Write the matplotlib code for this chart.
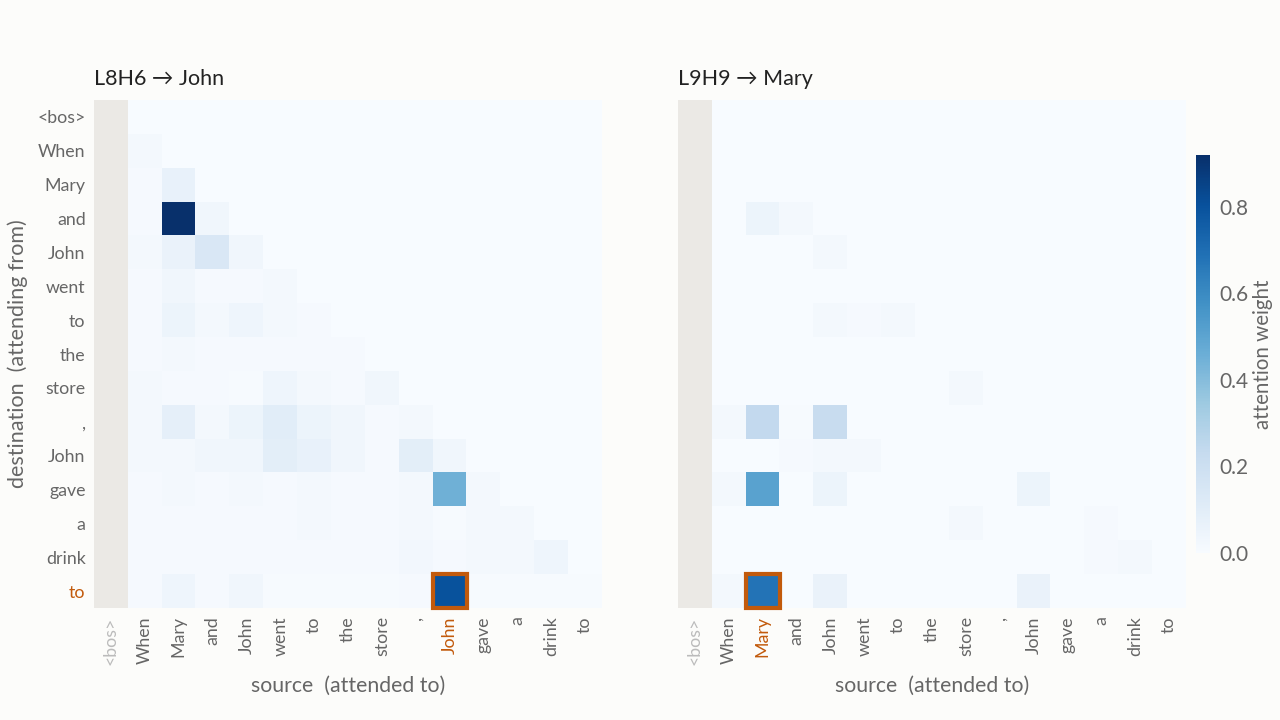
import numpy as np
import matplotlib
matplotlib.use("Agg")
import matplotlib.pyplot as plt
from matplotlib.patches import Rectangle

plt.rcParams['font.family'] = ['Lato', 'DejaVu Sans']

tokens = ["<bos>", "When", "Mary", "and", "John", "went", "to", "the",
          "store", ",", "John", "gave", "a", "drink", "to"]

# destination rows x source columns (column 0 = <bos>, shown masked)
attn_L8H6 = [
    [0.00, 0,    0,    0,    0,    0,    0,    0,    0,    0,    0,    0,    0,    0,    0],
    [0.00, 0.02, 0,    0,    0,    0,    0,    0,    0,    0,    0,    0,    0,    0,    0],
    [0.00, 0.01, 0.065,0,    0,    0,    0,    0,    0,    0,    0,    0,    0,    0,    0],
    [0.00, 0.01, 0.92, 0.03, 0,    0,    0,    0,    0,    0,    0,    0,    0,    0,    0],
    [0.00, 0.02, 0.06, 0.14, 0.03, 0,    0,    0,    0,    0,    0,    0,    0,    0,    0],
    [0.00, 0.01, 0.03, 0.01, 0.01, 0.02, 0,    0,    0,    0,    0,    0,    0,    0,    0],
    [0.00, 0.01, 0.05, 0.02, 0.04, 0.02, 0.01, 0,    0,    0,    0,    0,    0,    0,    0],
    [0.00, 0.01, 0.02, 0.01, 0.01, 0.01, 0.01, 0.01, 0,    0,    0,    0,    0,    0,    0],
    [0.00, 0.02, 0.01, 0.01, 0.005,0.04, 0.02, 0.01, 0.03, 0,    0,    0,    0,    0,    0],
    [0.00, 0.02, 0.08, 0.02, 0.05, 0.10, 0.05, 0.03, 0.01, 0.02, 0,    0,    0,    0,    0],
    [0.00, 0.02, 0.02, 0.03, 0.03, 0.09, 0.07, 0.03, 0.01, 0.09, 0.03, 0,    0,    0,    0],
    [0.00, 0.01, 0.02, 0.01, 0.02, 0.01, 0.015,0.01, 0.01, 0.02, 0.45, 0.02, 0,    0,    0],
    [0.00, 0.01, 0.01, 0.01, 0.01, 0.01, 0.015,0.01, 0.01, 0.02, 0.005,0.015,0.02, 0,    0],
    [0.00, 0.01, 0.01, 0.01, 0.01, 0.01, 0.01, 0.01, 0.01, 0.025,0.01, 0.015,0.015,0.04, 0],
    [0.00, 0.01, 0.04, 0.01, 0.03, 0.005,0.005,0.005,0.005,0.01, 0.80, 0.005,0.005,0.005,0.005],
]

attn_L9H9 = [
    [0.00, 0,    0,    0,    0,    0,    0,    0,    0,    0,    0,    0,    0,    0,    0],
    [0.00, 0.0,  0,    0,    0,    0,    0,    0,    0,    0,    0,    0,    0,    0,    0],
    [0.00, 0.0,  0.0,  0,    0,    0,    0,    0,    0,    0,    0,    0,    0,    0,    0],
    [0.00, 0.0,  0.05, 0.02, 0,    0,    0,    0,    0,    0,    0,    0,    0,    0,    0],
    [0.00, 0.0,  0.0,  0.0,  0.015,0,    0,    0,    0,    0,    0,    0,    0,    0,    0],
    [0.00, 0.0,  0.0,  0.0,  0.0,  0.0,  0,    0,    0,    0,    0,    0,    0,    0,    0],
    [0.00, 0.0,  0.0,  0.0,  0.02, 0.01, 0.015,0,    0,    0,    0,    0,    0,    0,    0],
    [0.00, 0.0,  0.0,  0.0,  0.0,  0.0,  0.0,  0.0,  0,    0,    0,    0,    0,    0,    0],
    [0.00, 0.0,  0.0,  0.0,  0.0,  0.0,  0.0,  0.0,  0.015,0,    0,    0,    0,    0,    0],
    [0.00, 0.02, 0.24, 0.005,0.22, 0.0,  0.0,  0.0,  0.0,  0.0,  0,    0,    0,    0,    0],
    [0.00, 0.0,  0.0,  0.01, 0.015,0.02, 0.0,  0.0,  0.0,  0.0,  0.0,  0,    0,    0,    0],
    [0.00, 0.02, 0.51, 0.0,  0.05, 0.0,  0.0,  0.0,  0.0,  0.0,  0.05, 0.0,  0,    0,    0],
    [0.00, 0.0,  0.0,  0.0,  0.0,  0.0,  0.0,  0.0,  0.015,0.0,  0.0,  0.0,  0.01, 0,    0],
    [0.00, 0.0,  0.0,  0.0,  0.0,  0.0,  0.0,  0.0,  0.0,  0.0,  0.0,  0.0,  0.01, 0.015,0],
    [0.00, 0.02, 0.68, 0.0,  0.06, 0.0,  0.0,  0.0,  0.0,  0.0,  0.06, 0.0,  0.0,  0.0,  0.0],
]

panel_titles = ["L8H6 \u2192 John", "L9H9 \u2192 Mary"]
highlight_cols = [10, 2]
highlight_row = 14
vmax = 0.92

BG = "#fcfcfa"
GREY_COL = "#ebe9e5"
TXT = "#666666"
HL = "#c25a0c"

fig = plt.figure(figsize=(12.8, 7.2), dpi=100, facecolor=BG)
axes = [fig.add_axes([94/1280, 1-608/720, 508/1280, 508/720]),
        fig.add_axes([678/1280, 1-608/720, 508/1280, 508/720])]

cmap = matplotlib.colormaps["Blues"].copy()
cmap.set_bad(GREY_COL)

n = len(tokens)
im = None
for k, (ax, mat) in enumerate(zip(axes, [attn_L8H6, attn_L9H9])):
    arr = np.array(mat, dtype=float)
    arr[:, 0] = np.nan
    im = ax.imshow(np.ma.masked_invalid(arr), cmap=cmap, vmin=0, vmax=vmax,
                   aspect="auto", interpolation="nearest")
    ax.set_facecolor(BG)
    for s in ax.spines.values():
        s.set_visible(False)
    ax.set_xticks(range(n))
    ax.set_xticklabels(tokens, rotation=90, fontsize=12.8, color=TXT)
    ax.tick_params(length=0, pad=6)
    xl = ax.get_xticklabels()
    xl[0].set_color("#bbbbbb")
    xl[highlight_cols[k]].set_color(HL)
    if k == 0:
        ax.set_yticks(range(n))
        ax.set_yticklabels(tokens, fontsize=12.8, color=TXT)
        ax.get_yticklabels()[highlight_row].set_color(HL)
        ax.set_ylabel("destination  (attending from)", fontsize=15.5, color=TXT, labelpad=7)
    else:
        ax.set_yticks([])
    ax.set_xlabel("source  (attended to)", fontsize=15.3, color=TXT, labelpad=8)
    ax.set_title(panel_titles[k], loc="left", fontsize=15.5, color="#222222", pad=11)
    c = highlight_cols[k]
    ax.add_patch(Rectangle((c - 0.5, highlight_row - 0.5), 1, 1, fill=False,
                           edgecolor=HL, linewidth=3, clip_on=False))

cax = fig.add_axes([1196/1280, 1-553/720, 14/1280, 398/720])
cb = fig.colorbar(im, cax=cax)
cb.outline.set_visible(False)
cb.set_ticks([0.0, 0.2, 0.4, 0.6, 0.8])
cb.ax.tick_params(length=0, labelsize=15, labelcolor=TXT, pad=7)
cb.set_label("attention weight", fontsize=14.8, color=TXT, labelpad=3)

fig.savefig("out.png", dpi=100, facecolor=BG)
